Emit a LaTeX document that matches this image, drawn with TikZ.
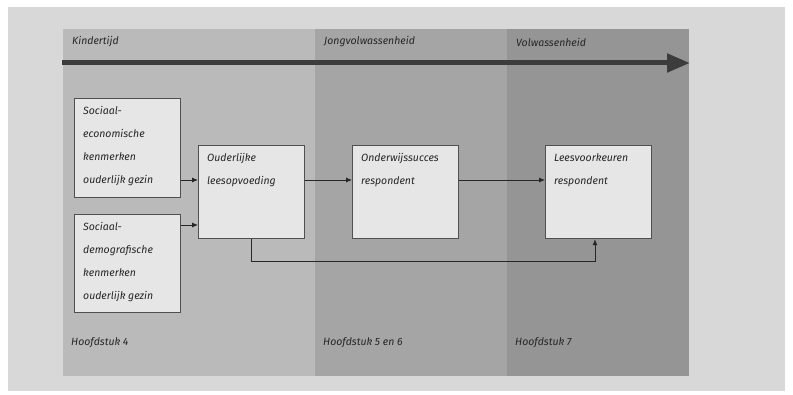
\documentclass[tikz,border=0pt]{standalone}
\usepackage{fontspec}
\setmainfont{Fira Sans}
\usetikzlibrary{arrows.meta}
\definecolor{papier}{HTML}{D8D8D8}
\definecolor{zone1}{HTML}{BABABA}
\definecolor{zone2}{HTML}{A5A5A5}
\definecolor{zone3}{HTML}{959595}
\definecolor{boxfill}{HTML}{E6E6E6}
\definecolor{boxline}{HTML}{505050}
\definecolor{ink}{HTML}{262626}

\begin{document}
\begin{tikzpicture}[x=1pt,y=-1pt,
  box/.style={draw=boxline,fill=boxfill,line width=1.2pt,anchor=north west,inner sep=0pt,
    minimum width=106pt,minimum height=93pt},
  txt/.style={anchor=north west,align=left,inner sep=0pt,text=ink,
    font=\itshape\fontsize{10.5}{23}\selectfont},
  lab/.style={anchor=west,inner sep=0pt,text=ink,font=\itshape\fontsize{10.5}{12}\selectfont},
  pijl/.style={draw=ink,line width=0.8pt,-{Latex[length=6pt,width=5pt]}},
  tijdpijl/.style={draw=ink!90,line width=5pt,-{Triangle[length=23pt,width=18pt]}}]
\fill[white] (0,0) rectangle (793,395);
\fill[papier] (8,7) rectangle (785,391);
\useasboundingbox (0,0) rectangle (793,395);

\foreach \a/\b/\k/\t/\h in {63/315/zone1/Kindertijd/Hoofdstuk 4,
  315/507/zone2/Jongvolwassenheid/Hoofdstuk 5 en 6,
  507/689/zone3/Volwassenheid/Hoofdstuk 7}
{
\fill[\k] (\a,29) rectangle (\b,376);
\node[lab] (fase\a) at (\a+9,42) {\t};
\node[lab] (hfd\a) at (\a+8,343) {\h};
}

\coordinate (start) at (62,63);
\coordinate (eind) at (690,63);
\draw[tijdpijl] (start) -- (eind);

\node[box,minimum height=99pt] (soceco) at (74,98) {};
\node[box,minimum height=98pt] (socdem) at (74,214) {};
\node[box] (ouder) at (198,145) {};
\node[box] (onderwijs) at (352,145) {};
\node[box] (lees) at (545,145) {};

\node[txt] (t1) at ([shift={(9,8)}]soceco.north west) {Sociaal-\\economische\\kenmerken\\ouderlijk gezin};
\node[txt] (t2) at ([shift={(9,8)}]socdem.north west) {Sociaal-\\demografische\\kenmerken\\ouderlijk gezin};
\node[txt] (t3) at ([shift={(9,8)}]ouder.north west) {Ouderlijke\\leesopvoeding};
\node[txt] (t4) at ([shift={(9,8)}]onderwijs.north west) {Onderwijssucces\\respondent};
\node[txt] (t5) at ([shift={(9,8)}]lees.north west) {Leesvoorkeuren\\respondent};

\coordinate (r1) at (0,180);
\coordinate (r2) at (0,225);
\coordinate (knik) at (595,261);
\draw[pijl] (soceco.east |- r1) -- (ouder.west |- r1);
\draw[pijl] (socdem.east |- r2) -- (ouder.west |- r2);
\draw[pijl] (ouder.east |- r1) -- (onderwijs.west |- r1);
\draw[pijl] (onderwijs.east |- r1) -- (lees.west |- r1);
\draw[pijl] (ouder.south) |- (knik) -- (knik |- lees.south);
\end{tikzpicture}
\end{document}
